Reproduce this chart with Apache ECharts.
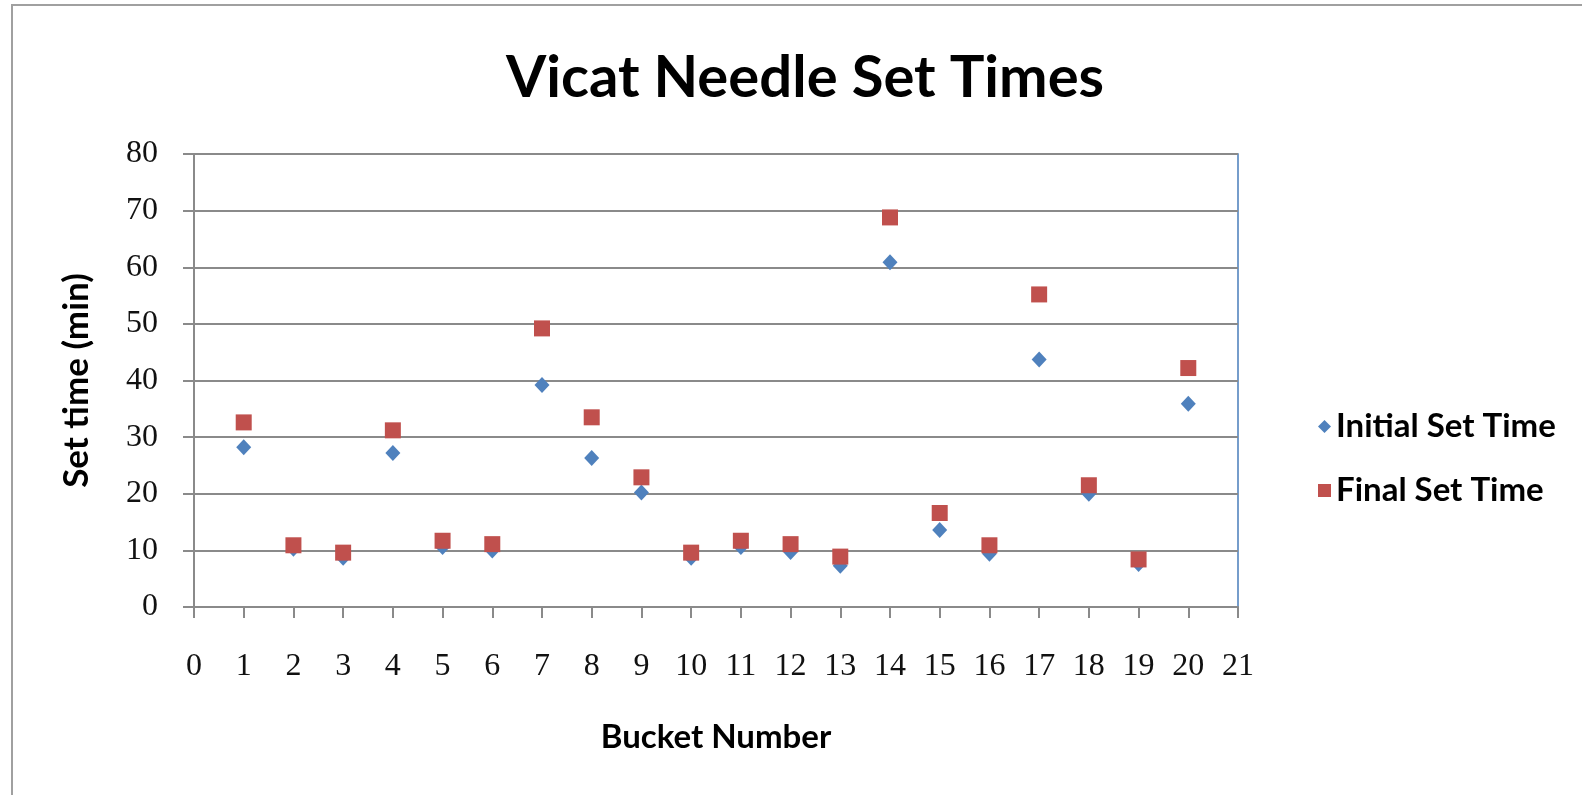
<!DOCTYPE html>
<html>
<head>
<meta charset="utf-8">
<script src="https://cdn.jsdelivr.net/npm/echarts@6/dist/echarts.min.js"></script>
<style>
  html, body { margin: 0; padding: 0; background: #fff; }
  #frame { position: absolute; left: 11px; top: 4px; width: 1580px; height: 800px;
           border-left: 2px solid #a0a0a0; border-top: 2px solid #a0a0a0; }
  #chart { position: absolute; left: 0; top: 0; width: 1582px; height: 795px; }
</style>
</head>
<body>
<div id="frame"></div>
<div id="chart"></div>
<script>
const buckets = [1, 2, 3, 4, 5, 6, 7, 8, 9, 10, 11, 12, 13, 14, 15, 16, 17, 18, 19, 20];
const initialSet = [28.2, 10.3, 8.7, 27.2, 10.6, 10.0, 39.2, 26.3, 20.2, 8.7, 10.6, 9.7, 7.3, 60.9, 13.6, 9.4, 43.7, 20.0, 7.6, 35.9];
const finalSet = [32.6, 10.9, 9.6, 31.2, 11.7, 11.1, 49.2, 33.5, 22.9, 9.6, 11.7, 11.1, 8.9, 68.8, 16.6, 10.9, 55.2, 21.5, 8.4, 42.2];
const xTicks = { min: 0, max: 21, interval: 1 };
const yTicks = { min: 0, max: 80, interval: 10 };

const sansBold = 'Lato, "Open Sans", sans-serif';
const serif = '"Liberation Serif", "DejaVu Serif", serif';

const chart = echarts.init(document.getElementById('chart'), null, { renderer: 'canvas' });
chart.setOption({
  animation: false,
  backgroundColor: 'transparent',
  title: {
    text: 'Vicat Needle Set Times',
    left: 800, top: 44, textAlign: 'center',
    textStyle: { fontFamily: sansBold, fontWeight: 'bold', fontSize: 58, color: '#000' }
  },
  legend: {
    orient: 'vertical', left: 1313, top: 405, itemGap: 31,
    itemWidth: 13, itemHeight: 13,
    textStyle: { fontFamily: sansBold, fontWeight: 'bold', fontSize: 33, color: '#000' },
    data: [
      { name: 'Initial Set Time', icon: 'diamond' },
      { name: 'Final Set Time', icon: 'rect' }
    ]
  },
  grid: { left: 194, right: 344, top: 154, bottom: 188, show: true, borderColor: '#4a7ebb', borderWidth: 1.5, backgroundColor: 'transparent' },
  xAxis: {
    type: 'value', min: xTicks.min, max: xTicks.max, interval: xTicks.interval,
    name: 'Bucket Number', nameLocation: 'middle', nameGap: 114,
    nameTextStyle: { fontFamily: sansBold, fontWeight: 'bold', fontSize: 33, color: '#000' },
    axisLine: { show: true, lineStyle: { color: '#8a8a8a', width: 2 } },
    axisTick: { show: true, inside: false, length: 11, lineStyle: { color: '#8a8a8a', width: 2 } },
    axisLabel: { margin: 44, fontFamily: serif, fontSize: 32, color: '#111' },
    splitLine: { show: false }
  },
  yAxis: {
    type: 'value', min: yTicks.min, max: yTicks.max, interval: yTicks.interval,
    name: 'Set time (min)', nameLocation: 'middle', nameGap: 100, nameRotate: 90,
    nameTextStyle: { fontFamily: sansBold, fontWeight: 'bold', fontSize: 35, color: '#000' },
    axisLine: { show: true, lineStyle: { color: '#8a8a8a', width: 2 } },
    axisTick: { show: true, inside: false, length: 11, lineStyle: { color: '#8a8a8a', width: 2 } },
    axisLabel: { margin: 36, fontFamily: serif, fontSize: 32, color: '#111' },
    splitLine: { show: true, lineStyle: { color: '#8a8a8a', width: 2 } }
  },
  series: [
    {
      name: 'Initial Set Time', type: 'scatter', symbol: 'diamond', symbolSize: [15, 16],
      itemStyle: { color: '#4f81bd', opacity: 1 },
      data: buckets.map((b, i) => [b, initialSet[i]])
    },
    {
      name: 'Final Set Time', type: 'scatter', symbol: 'rect', symbolSize: 16,
      itemStyle: { color: '#c0504d', opacity: 1 },
      data: buckets.map((b, i) => [b, finalSet[i]])
    }
  ]
});
</script>
</body>
</html>
